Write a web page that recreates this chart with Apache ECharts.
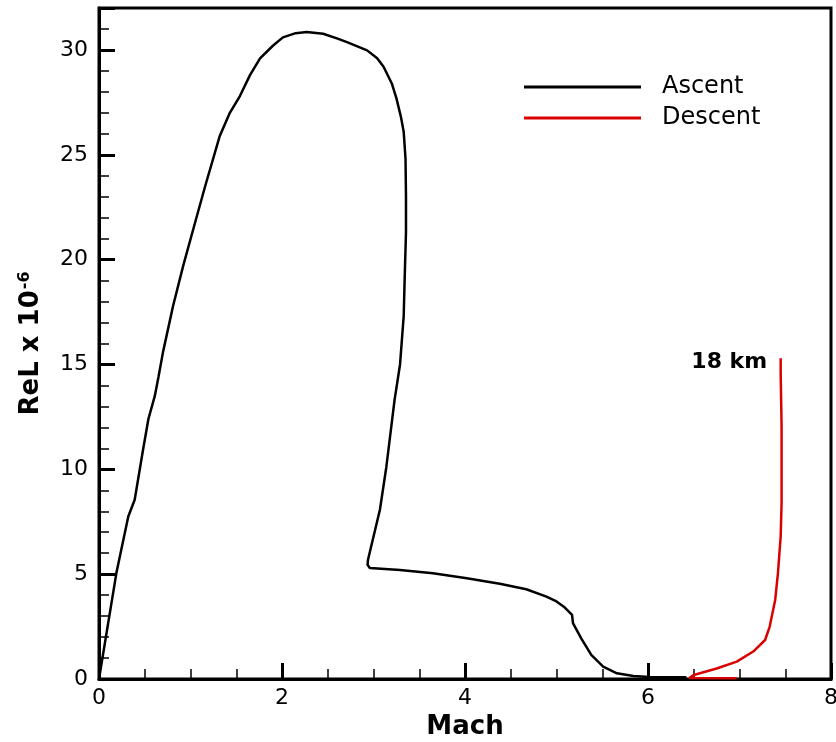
<!DOCTYPE html>
<html>
<head>
<meta charset="utf-8">
<script src="https://cdn.jsdelivr.net/npm/echarts@6/dist/echarts.min.js"></script>
<style>
  html, body { margin: 0; padding: 0; background: #fff; }
  #main { width: 836px; height: 742px; }
</style>
</head>
<body>
<div id="main"></div>
<script>
// Ascent trajectory (Mach, ReL x 1e-6)
const ascent = [
  [0, 0], [0.19, 5.05], [0.32, 7.75], [0.39, 8.55], [0.48, 10.9], [0.54, 12.4],
  [0.61, 13.5], [0.65, 14.4], [0.7, 15.6], [0.81, 17.8], [0.92, 19.7], [1.03, 21.45],
  [1.16, 23.5], [1.32, 25.9], [1.43, 27.0], [1.54, 27.8], [1.65, 28.8], [1.76, 29.6],
  [1.9, 30.2], [2.01, 30.6], [2.15, 30.8], [2.27, 30.85], [2.45, 30.77], [2.6, 30.55],
  [2.71, 30.37], [2.93, 29.98], [3.04, 29.6], [3.11, 29.2], [3.2, 28.4], [3.25, 27.7],
  [3.3, 26.8], [3.33, 26.1], [3.35, 24.8], [3.355, 23], [3.355, 21.3], [3.34, 19],
  [3.33, 17.3], [3.29, 15.0], [3.23, 13.3], [3.14, 10.1], [3.07, 8.07], [2.94, 5.69],
  [2.935, 5.45], [2.96, 5.29], [3.29, 5.2], [3.65, 5.04], [4.02, 4.8], [4.38, 4.54],
  [4.67, 4.28], [4.89, 3.93], [5.0, 3.7], [5.08, 3.45], [5.17, 3.06], [5.18, 2.66],
  [5.27, 1.94], [5.38, 1.15], [5.51, 0.59], [5.66, 0.27], [5.84, 0.14], [6.02, 0.1],
  [6.42, 0.08]
];

// Descent trajectory, ends at 18 km
const descent = [
  [6.97, 0.03], [6.45, 0.05], [6.5, 0.19], [6.75, 0.5], [6.97, 0.83], [7.15, 1.31],
  [7.28, 1.86], [7.33, 2.5], [7.39, 3.77], [7.42, 5.04], [7.45, 6.8], [7.46, 8.4],
  [7.46, 12.05], [7.45, 14.6], [7.45, 15.3]
];

const seriesNames = ['Ascent', 'Descent'];
const endLabel = '18 km';

const chart = echarts.init(document.getElementById('main'));
const font = 'DejaVu Sans';

chart.setOption({
  animation: false,
  grid: {
    left: 99, right: 5, top: 8, bottom: 63,
    outerBoundsMode: 'none', containLabel: false,
    show: true, borderColor: '#000', borderWidth: 3
  },
  legend: {
    data: seriesNames,
    orient: 'vertical',
    left: 519, top: 70,
    itemWidth: 117, itemHeight: 3, itemGap: 7,
    icon: 'rect',
    textStyle: { fontFamily: font, fontSize: 24, lineHeight: 24, color: '#000', padding: [0, 0, 0, 16] }
  },
  xAxis: {
    type: 'value', min: 0, max: 8, interval: 2,
    name: 'Mach', nameLocation: 'middle', nameGap: 32,
    nameTextStyle: { fontFamily: font, fontWeight: 'bold', fontSize: 26, color: '#000' },
    axisLine: { lineStyle: { color: '#000', width: 3 } },
    axisTick: { inside: true, length: 16, lineStyle: { color: '#000', width: 3 } },
    minorTick: { show: true, splitNumber: 4, length: 10, lineStyle: { color: '#000', width: 1.5 } },
    axisLabel: { fontFamily: font, fontSize: 22, color: '#000', margin: 8 },
    splitLine: { show: false }
  },
  yAxis: [
    {
      type: 'value', min: 0, max: 32, interval: 1, position: 'left',
      name: '{a|ReL x 10}{b|-6}', nameLocation: 'middle', nameGap: 54,
      nameTextStyle: {
        rich: {
          a: { fontFamily: font, fontWeight: 'bold', fontSize: 26, color: '#000' },
          b: { fontFamily: font, fontWeight: 'bold', fontSize: 16, color: '#000', verticalAlign: 'top', padding: [0, 0, 12, 1] }
        }
      },
      axisLine: { lineStyle: { color: '#000', width: 3 } },
      axisTick: { inside: true, length: 10, lineStyle: { color: '#000', width: 1.5 } },
      axisLabel: {
        fontFamily: font, fontSize: 22, color: '#000', margin: 11,
        formatter: v => (v % 5 === 0 ? String(v) : '')
      },
      splitLine: { show: false }
    },
    {
      type: 'value', min: 0, max: 32, interval: 5, position: 'left',
      axisLine: { show: false },
      axisTick: { inside: true, length: 16, lineStyle: { color: '#000', width: 3 } },
      axisLabel: { show: false },
      splitLine: { show: false }
    }
  ],
  series: [
    {
      name: seriesNames[0], type: 'line', data: ascent, symbol: 'none',
      lineStyle: { color: '#000', width: 2.5 }, itemStyle: { color: '#000' }
    },
    {
      name: seriesNames[1], type: 'line', data: descent, symbol: 'none',
      lineStyle: { color: '#d90000', width: 2.5 }, itemStyle: { color: '#d90000' },
      markPoint: {
        symbol: 'rect', symbolSize: 1,
        itemStyle: { color: 'rgba(0,0,0,0)' },
        label: {
          show: true, position: 'left', distance: 13, offset: [0, 4],
          formatter: endLabel, fontFamily: font, fontWeight: 'bold', fontSize: 22, color: '#000'
        },
        data: [{ coord: descent[descent.length - 1] }]
      }
    }
  ]
});
</script>
</body>
</html>
